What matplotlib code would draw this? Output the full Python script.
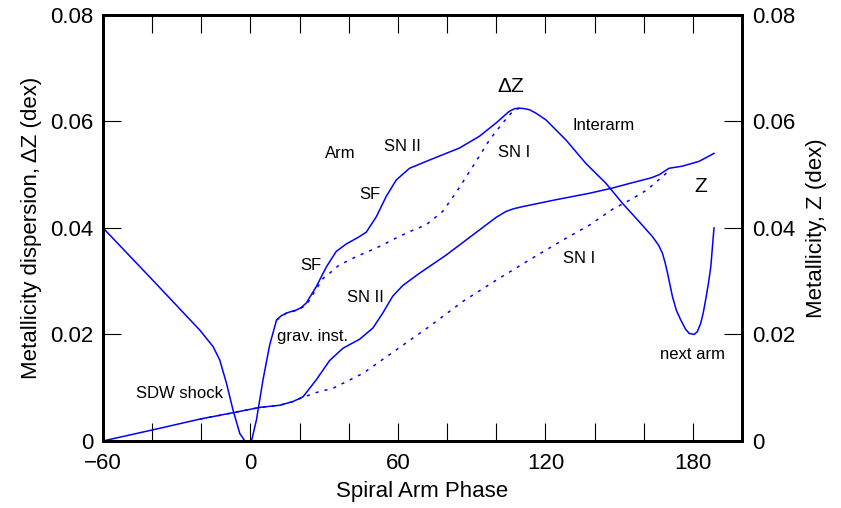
import numpy as np
import matplotlib
matplotlib.use('Agg')
import matplotlib.pyplot as plt

plt.rcParams['font.family'] = ['Liberation Sans', 'DejaVu Sans']

# metallicity dispersion (left axis), total and SN I only
dz_x = [-60, -40, -20.6, -15.2, -12.5, -9.75, -7.1, -4.35, -2.3, 0.4, 2.4, 5.1, 7.8, 10.6,
        12.5, 14.6, 16.5, 18.7, 20.5, 22.7, 26.8, 30.9, 34.9, 39, 43.7, 47.1, 51.2, 55.2,
        59.3, 64.7, 71.5, 79.6, 85, 93.1, 99.9, 102.6, 105.3, 107.5, 109.4, 111.5, 113.5,
        116, 120.2, 128.4, 136.5, 144.6, 151.4, 158.1, 163.5, 166, 167.6, 168.7, 169.7,
        171.7, 173.3, 175.1, 177, 178.5, 180.5, 181.8, 183.2, 184.2, 185.2, 186.3, 187.3, 188.6]
dz_y = [0.040, 0.0303, 0.0208, 0.0177, 0.0152, 0.0108, 0.0058, 0.0014, 0.0, 0.0, 0.0039,
        0.0115, 0.0180, 0.0227, 0.0235, 0.0240, 0.0243, 0.0246, 0.0250, 0.0259, 0.0290,
        0.0327, 0.0356, 0.0370, 0.0382, 0.0392, 0.0421, 0.0459, 0.0490, 0.0512, 0.0525,
        0.0540, 0.0550, 0.0572, 0.0597, 0.0608, 0.0619, 0.0624, 0.0625, 0.0624, 0.0622,
        0.0616, 0.0603, 0.0565, 0.0521, 0.0484, 0.0446, 0.0412, 0.0384, 0.0368, 0.0353,
        0.0335, 0.0315, 0.0271, 0.0245, 0.0227, 0.0210, 0.0202, 0.0200, 0.0205, 0.0221,
        0.0240, 0.0265, 0.0295, 0.0327, 0.0400]

dz1_x = [10.6, 14.6, 18.7, 22.7, 26.0, 29.5, 32.2, 36.0, 43.0, 48.0, 53.8, 57.9, 64.7, 71.5,
         78.2, 83.6, 90.4, 97.2, 102.6, 106.7, 109.4]
dz1_y = [0.0227, 0.0240, 0.0245, 0.0255, 0.0280, 0.0305, 0.0315, 0.0330, 0.0346, 0.0356,
         0.0368, 0.0378, 0.0393, 0.0406, 0.0431, 0.0466, 0.0515, 0.0565, 0.0597, 0.0619, 0.0625]

# metallicity (right axis), total and SN I only
z_x = [-60, -39.6, -20.6, -7.1, 3.8, 11.9, 17.3, 21.4, 26.8, 32.2, 37.6, 44.4, 49.8, 53.8,
       57.9, 62, 68.8, 79.6, 93.1, 100, 104, 107, 110.7, 124.3, 137.8, 147.3, 155.4, 163,
       166.3, 170.3, 175.7, 182.5, 188.6]
z_y = [0, 0.0021, 0.0041, 0.0053, 0.0063, 0.0067, 0.0074, 0.0083, 0.0115, 0.0151, 0.0174,
       0.0191, 0.0212, 0.0240, 0.0272, 0.0292, 0.0315, 0.0349, 0.0396, 0.0420, 0.0431,
       0.0436, 0.0440, 0.0453, 0.0465, 0.0475, 0.0485, 0.0494, 0.0500, 0.0512, 0.0516,
       0.0525, 0.0540]

z1_x = [-20.6, -7.1, 3.8, 11.9, 17.3, 21.4, 26.8, 33.6, 45.8, 59.3, 72.8, 86.4, 100, 113.5,
        127, 137.8, 147.3, 155.4, 161.5, 166, 169, 170.3]
z1_y = [0.0041, 0.0053, 0.0063, 0.0067, 0.0074, 0.0082, 0.0091, 0.0099, 0.0127, 0.0171,
        0.0215, 0.0262, 0.0302, 0.0340, 0.0377, 0.0405, 0.0435, 0.0455, 0.0472, 0.0490,
        0.0502, 0.0512]

# annotations: (text, x, y, size)
notes = [('SDW shock', -28.7, 0.0090, 12), ('grav. inst.', 25.3, 0.0197, 12),
         ('SF', 24.5, 0.0330, 12), ('SF', 48.5, 0.0462, 12), ('Arm', 36.7, 0.0540, 12),
         ('SN II', 61.9, 0.0552, 12), ('SN II', 46.8, 0.0270, 12), ('\u0394Z', 105.7, 0.0665, 15),
         ('SN I', 107.4, 0.0541, 12), ('Interarm', 143.5, 0.0592, 12), ('Z', 183.3, 0.0477, 15),
         ('SN I', 133.8, 0.0343, 12), ('next arm', 179.7, 0.0162, 12)]

xticks = [-60, 0, 60, 120, 180]
yticks = [0, 0.02, 0.04, 0.06, 0.08]
ylabels = ['0', '0.02', '0.04', '0.06', '0.08']

col = '#0000ff'
fig = plt.figure(figsize=(8.41, 5.08), dpi=100)
ax = fig.add_axes([0.1225, 0.132, 0.7598, 0.8386])
ax2 = ax.twinx()

ax.plot(dz_x, dz_y, color=col, lw=1.1)
ax.plot(dz1_x, dz1_y, color=col, lw=1.1, linestyle=(0, (2, 4)))
ax2.plot(z_x, z_y, color=col, lw=1.1)
ax2.plot(z1_x, z1_y, color=col, lw=1.1, linestyle=(0, (2, 4)))

for t, x, y, s in notes:
    ax.text(x, y, t, fontsize=s, ha='center', va='center')

for a in (ax, ax2):
    a.set_xlim(-60, 200)
    a.set_ylim(0, 0.08)
    a.set_yticks(yticks)
    a.set_yticklabels(ylabels)
    for sp in a.spines.values():
        sp.set_linewidth(2.0)

ax.set_xticks(xticks)
ax.set_xticks(np.arange(-40, 200, 20), minor=True)
ax.tick_params(axis='x', which='both', direction='in', length=13, width=0.8, top=True,
               labelsize=16, pad=9)
ax.tick_params(axis='y', direction='in', length=13, width=0.8, labelsize=16, pad=7)
ax2.tick_params(axis='y', direction='in', length=13, width=0.8, labelsize=16, pad=7)

ax.set_xlabel('Spiral Arm Phase', fontsize=16, labelpad=5)
ax.set_ylabel('Metallicity dispersion, \u0394Z (dex)', fontsize=16, labelpad=6)
ax2.set_ylabel('Metallicity, Z (dex)', fontsize=16, labelpad=8)

fig.savefig('out.png', dpi=100)
